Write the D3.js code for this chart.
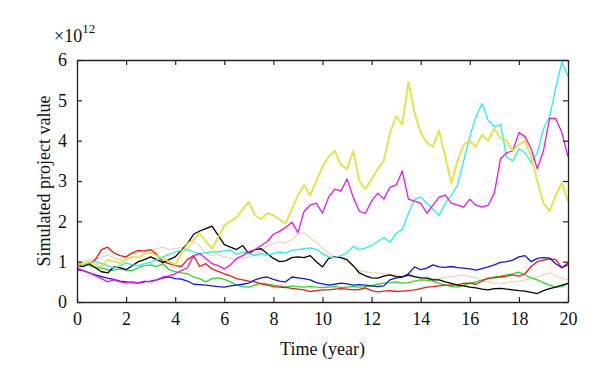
<!DOCTYPE html>
<html>
<head>
<meta charset="utf-8">
<script src="https://cdn.jsdelivr.net/npm/d3@7"></script>
<style>
  html, body { margin: 0; padding: 0; background: #fff; }
  svg { display: block; }
  svg text { font-family: "Liberation Serif", "DejaVu Serif", serif !important; fill: #111; }
</style>
</head>
<body>
<svg id="chart" width="600" height="381"></svg>
<script>
// ---- data (values in units of 10^12) ----
const years = d3.range(81).map(i => i * 0.25);   // time grid, 0 .. 20 years
const xTicks = [0, 2, 4, 6, 8, 10, 12, 14, 16, 18, 20];
const yTicks = [0, 1, 2, 3, 4, 5, 6];

const yellowPath = [
  0.9, 0.95, 1.0, 0.92, 0.88, 1.05, 1.0, 0.97, 1.05, 1.12,
  1.1, 1.2, 1.22, 1.15, 1.08, 1.0, 0.92, 1.2, 1.45, 1.55,
  1.7, 1.5, 1.32, 1.6, 1.9, 2.0, 2.1, 2.3, 2.48, 2.15,
  2.05, 2.2, 2.15, 2.05, 1.95, 2.3, 2.65, 2.9, 2.65, 3.0,
  3.35, 3.6, 3.75, 3.4, 3.3, 3.75, 3.0, 2.8, 3.05, 3.3,
  3.5, 4.2, 4.6, 4.4, 5.45, 4.7, 4.2, 3.95, 3.85, 4.25,
  3.6, 2.95, 3.5, 3.9, 4.0, 3.85, 4.15, 4.0, 4.3, 4.05,
  4.0, 3.75, 3.9, 4.0, 3.6, 3.0, 2.45, 2.25, 2.65, 2.95,
  2.5];
const magentaPath = [
  0.85, 0.78, 0.72, 0.65, 0.58, 0.5, 0.55, 0.5, 0.47, 0.5,
  0.48, 0.52, 0.5, 0.55, 0.62, 0.65, 0.7, 0.78, 0.85, 1.15,
  1.2, 1.08, 0.95, 0.9, 0.82, 0.92, 1.08, 1.15, 1.25, 1.3,
  1.4, 1.5, 1.68, 1.75, 1.85, 1.98, 1.72, 2.25, 2.4, 2.45,
  2.2, 2.6, 2.8, 2.75, 3.05, 2.6, 2.25, 2.2, 2.5, 2.7,
  2.55, 2.85, 2.9, 3.25, 2.55, 2.5, 2.45, 2.2, 2.4, 2.6,
  2.65, 2.45, 2.4, 2.35, 2.55, 2.4, 2.35, 2.4, 2.7, 3.55,
  3.7, 3.75, 4.2, 4.1, 3.8, 3.3, 3.75, 4.55, 4.55, 4.2,
  3.6];
const cyanPath = [
  0.95, 0.92, 0.97, 1.0, 0.95, 0.9, 0.84, 0.9, 0.97, 0.92,
  0.9, 0.95, 0.98, 1.05, 1.12, 1.18, 1.24, 1.28, 1.3, 1.24,
  1.2, 1.22, 1.25, 1.24, 1.27, 1.29, 1.18, 1.24, 1.2, 1.15,
  1.2, 1.16, 1.2, 1.24, 1.22, 1.28, 1.3, 1.32, 1.34, 1.3,
  1.2, 1.12, 1.1, 1.15, 1.22, 1.38, 1.3, 1.34, 1.4, 1.5,
  1.6, 1.48, 1.7, 1.8, 2.2, 2.55, 2.6, 2.45, 2.3, 2.15,
  2.45, 2.65, 2.9, 3.5, 4.1, 4.6, 4.92, 4.5, 4.35, 4.4,
  3.6, 3.5, 3.8, 3.7, 3.45, 3.7, 4.3, 4.6, 5.3, 5.95,
  5.6];
const blackPath = [
  0.92, 0.88, 0.95, 0.85, 0.75, 0.72, 0.87, 0.85, 0.8, 0.9,
  1.0, 1.05, 1.12, 1.05, 0.98, 1.05, 1.12, 1.28, 1.45, 1.68,
  1.76, 1.82, 1.88, 1.65, 1.42, 1.36, 1.3, 1.4, 1.2, 1.3,
  1.32, 1.2, 1.08, 1.0, 1.02, 1.1, 1.12, 1.1, 1.15, 1.0,
  0.87, 1.08, 1.12, 1.1, 1.05, 0.9, 0.72, 0.65, 0.6, 0.59,
  0.64, 0.67, 0.63, 0.62, 0.67, 0.63, 0.6, 0.59, 0.55, 0.55,
  0.5, 0.46, 0.42, 0.4, 0.37, 0.35, 0.32, 0.3, 0.33, 0.34,
  0.32, 0.3, 0.28, 0.27, 0.24, 0.21, 0.28, 0.33, 0.37, 0.42,
  0.46];
const bluePath = [
  0.8, 0.78, 0.72, 0.67, 0.63, 0.59, 0.56, 0.52, 0.5, 0.48,
  0.47, 0.5, 0.52, 0.55, 0.6, 0.62, 0.58, 0.57, 0.52, 0.44,
  0.43, 0.42, 0.4, 0.38, 0.37, 0.4, 0.42, 0.44, 0.47, 0.55,
  0.6, 0.62, 0.56, 0.52, 0.5, 0.62, 0.6, 0.58, 0.55, 0.48,
  0.45, 0.42, 0.44, 0.47, 0.45, 0.42, 0.43, 0.42, 0.4, 0.38,
  0.4, 0.55, 0.6, 0.62, 0.7, 0.87, 0.8, 0.84, 0.92, 0.87,
  0.86, 0.88, 0.85, 0.84, 0.82, 0.79, 0.83, 0.87, 0.92, 0.98,
  1.0, 1.04, 1.12, 1.15, 1.0, 1.08, 1.1, 1.09, 0.95, 0.85,
  0.92];
const redPath = [
  0.9, 0.88, 0.95, 1.05, 1.3, 1.36, 1.22, 1.15, 1.12, 1.22,
  1.28, 1.26, 1.3, 1.18, 1.0, 0.95, 0.9, 0.88, 1.05, 1.15,
  0.88, 0.95, 0.82, 0.76, 0.7, 0.65, 0.58, 0.55, 0.52, 0.5,
  0.45, 0.42, 0.38, 0.37, 0.36, 0.34, 0.32, 0.3, 0.26, 0.28,
  0.3, 0.3, 0.32, 0.33, 0.32, 0.3, 0.31, 0.35, 0.28, 0.25,
  0.27, 0.28, 0.26, 0.27, 0.28, 0.3, 0.33, 0.37, 0.38, 0.4,
  0.42, 0.42, 0.43, 0.46, 0.47, 0.44, 0.52, 0.59, 0.6, 0.62,
  0.64, 0.67, 0.64, 0.7, 0.88, 1.0, 1.04, 1.07, 1.05, 0.85,
  0.97];
const greenPath = [
  0.9, 0.95, 0.9, 0.86, 0.84, 0.8, 0.79, 0.82, 0.79, 0.78,
  0.85, 0.9, 0.92, 0.88, 0.95, 0.8, 0.75, 0.72, 0.7, 0.62,
  0.58, 0.5, 0.58, 0.6, 0.56, 0.5, 0.42, 0.38, 0.37, 0.42,
  0.47, 0.44, 0.42, 0.4, 0.37, 0.4, 0.38, 0.37, 0.39, 0.37,
  0.36, 0.37, 0.38, 0.36, 0.37, 0.38, 0.37, 0.38, 0.4, 0.44,
  0.47, 0.48, 0.5, 0.47, 0.48, 0.52, 0.55, 0.54, 0.52, 0.46,
  0.42, 0.39, 0.37, 0.42, 0.46, 0.5, 0.55, 0.58, 0.62, 0.64,
  0.67, 0.7, 0.74, 0.67, 0.6, 0.55, 0.48, 0.42, 0.37, 0.38,
  0.46];
const tanPath = [
  0.95, 1.0, 1.05, 1.09, 1.12, 1.16, 1.1, 1.05, 1.12, 1.2,
  1.22, 1.28, 1.3, 1.32, 1.36, 1.3, 1.32, 1.36, 1.3, 1.5,
  1.4, 1.2, 1.15, 1.18, 1.12, 1.09, 1.05, 1.08, 1.12, 1.18,
  1.26, 1.4, 1.45, 1.5, 1.46, 1.55, 1.68, 1.72, 1.58, 1.48,
  1.34, 1.22, 1.09, 1.12, 1.0, 0.88, 0.78, 0.75, 0.73, 0.72,
  0.7, 0.68, 0.67, 0.63, 0.64, 0.62, 0.6, 0.62, 0.58, 0.58,
  0.61, 0.63, 0.65, 0.67, 0.63, 0.59, 0.52, 0.5, 0.47, 0.46,
  0.48, 0.5, 0.52, 0.55, 0.58, 0.62, 0.67, 0.72, 0.65, 0.6,
  0.55];

const seriesNames = ["tan", "green", "red", "blue", "black", "cyan", "magenta", "yellow"];
const seriesValues = [tanPath, greenPath, redPath, bluePath, blackPath, cyanPath, magentaPath, yellowPath];
const seriesColors = ["#f0d6b4", "#1ee01e", "#ff1010", "#1010ff", "#000000", "#20f0f0", "#f010f0", "#ecec1c"];

// ---- layout ----
const FONT = '"Liberation Serif", "DejaVu Serif", serif';
const svg = d3.select("#chart");
const margin = { left: 77, right: 32, top: 60, bottom: 79 };
const W = 600, H = 381;
const x = d3.scaleLinear().domain([0, 20]).range([margin.left, W - margin.right]);
const y = d3.scaleLinear().domain([0, 6]).range([H - margin.bottom, margin.top]);

svg.append("defs").append("clipPath").attr("id", "plotclip")
  .append("rect")
  .attr("x", x(0)).attr("y", y(6))
  .attr("width", x(20) - x(0)).attr("height", y(0) - y(6));

const line = d3.line().x((d, i) => x(years[i])).y(d => y(d));

const plot = svg.append("g").attr("clip-path", "url(#plotclip)");
seriesValues.forEach((vals, k) => {
  if (seriesNames[k] === "yellow") {
    plot.append("path").datum(vals).attr("d", line)
      .attr("fill", "none").attr("stroke", "#9a9a40").attr("stroke-opacity", 0.4)
      .attr("stroke-width", 2.0).attr("stroke-linejoin", "round");
  }
  plot.append("path").datum(vals).attr("d", line)
    .attr("fill", "none").attr("stroke", seriesColors[k])
    .attr("stroke-width", 1.3).attr("stroke-linejoin", "round");
});

// ---- axes (MATLAB-style box, ticks inside on all sides) ----
const tickLen = 5;
const fontSize = 18;
const axB = svg.append("g").attr("transform", `translate(0,${y(0)})`)
  .call(d3.axisBottom(x).tickValues(xTicks).tickSizeInner(-tickLen).tickSizeOuter(0).tickPadding(10).tickFormat(d3.format("d")));
const axT = svg.append("g").attr("transform", `translate(0,${y(6)})`)
  .call(d3.axisTop(x).tickValues(xTicks).tickSizeInner(-tickLen).tickSizeOuter(0).tickFormat(""));
const axL = svg.append("g").attr("transform", `translate(${x(0)},0)`)
  .call(d3.axisLeft(y).tickValues(yTicks).tickSizeInner(-tickLen).tickSizeOuter(0).tickPadding(10).tickFormat(d3.format("d")));
const axR = svg.append("g").attr("transform", `translate(${x(20)},0)`)
  .call(d3.axisRight(y).tickValues(yTicks).tickSizeInner(-tickLen).tickSizeOuter(0).tickFormat(""));

[axB, axT, axL, axR].forEach(a => {
  a.attr("font-family", FONT).attr("font-size", fontSize);
  a.select(".domain").attr("stroke", "#222").attr("stroke-width", 1.3);
  a.selectAll(".tick line").attr("stroke", "#222").attr("stroke-width", 1.2);
  a.selectAll("text").attr("font-family", FONT).attr("font-size", fontSize).attr("fill", "#111");
});
axB.selectAll(".tick text").attr("dy", "0.71em");

// exponent label
const expo = svg.append("text").attr("x", 54).attr("y", 42)
  .attr("font-family", FONT).attr("font-size", 18);
expo.append("tspan").text("×10");
expo.append("tspan").attr("dy", -9).attr("font-size", 13).text("12");

// axis titles
svg.append("text").attr("x", (x(0) + x(20)) / 2).attr("y", 355)
  .attr("font-family", FONT).attr("font-size", 18)
  .attr("text-anchor", "middle").text("Time (year)");
svg.append("text")
  .attr("transform", `translate(50,${(y(0) + y(6)) / 2}) rotate(-90)`)
  .attr("font-family", FONT).attr("font-size", 18)
  .attr("text-anchor", "middle").text("Simulated project value");
</script>
</body>
</html>
